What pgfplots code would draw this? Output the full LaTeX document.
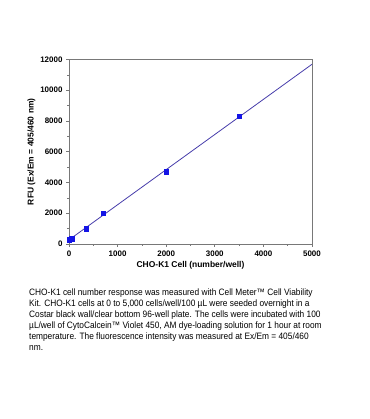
\documentclass[border=0pt]{standalone}
\usepackage{pgfplots}
\pgfplotsset{compat=1.18}
\usepackage{fontspec}
\setmainfont{Liberation Sans}
\newfontfamily\capfont[FakeStretch=0.9]{Liberation Sans}
\definecolor{ptblue}{RGB}{20,20,230}
\definecolor{lineblue}{RGB}{70,60,170}
\definecolor{axgray}{RGB}{120,120,120}
\begin{document}
\begin{tikzpicture}
\path[use as bounding box] (0bp,0bp) rectangle (370bp,419bp);
\begin{axis}[
  at={(69bp,175bp)}, anchor=south west,
  scale only axis, width=243bp, height=184.5bp,
  xmin=0, xmax=5000, ymin=0, ymax=12000,
  xtick={0,1000,...,5000}, ytick={0,2000,...,12000},
  minor xtick={500,1500,...,4500}, minor ytick={1000,3000,...,11000},
  tick pos=left, tick align=outside,
  major tick length=3bp, minor tick length=2bp,
  axis line style={axgray, line width=0.8pt},
  every tick/.style={axgray, line width=0.6pt},
  scaled ticks=false,
  /pgf/number format/assume math mode=true,
  xticklabel style={font=\fontsize{8}{9}\selectfont\bfseries, /pgf/number format/1000 sep={}},
  yticklabel style={font=\fontsize{8}{9}\selectfont\bfseries, /pgf/number format/1000 sep={}},
  xlabel={CHO-K1 Cell (number/well)},
  ylabel={RFU (Ex/Em = 405/460 nm)},
  label style={font=\fontsize{8.5}{10}\selectfont\bfseries},
  xlabel style={yshift=2bp},
  ylabel style={yshift=-2bp},
]
\addplot[lineblue, line width=0.8pt, no marks] coordinates {(0,270) (5000,11690)};
\addplot[only marks, mark=square*, mark size=2.3bp, ptblue] coordinates {
  (0,270) (50,350) (350,1000) (700,2000) (2000,4700) (3500,8300)};
\end{axis}
\node[anchor=north west, inner sep=0pt, align=left, font=\capfont\fontsize{9.3}{11}\selectfont] at (29bp,130bp) {%
CHO-K1 cell number response was measured with Cell Meter\texttrademark{} Cell Viability\\
Kit. CHO-K1 cells at 0 to 5,000 cells/well/100 µL were seeded overnight in a\\
Costar black wall/clear bottom 96-well plate. The cells were incubated with 100\\
µL/well of CytoCalcein\texttrademark{} Violet 450, AM dye-loading solution for 1 hour at room\\
temperature. The fluorescence intensity was measured at Ex/Em = 405/460\\
nm.};
\end{tikzpicture}
\end{document}
